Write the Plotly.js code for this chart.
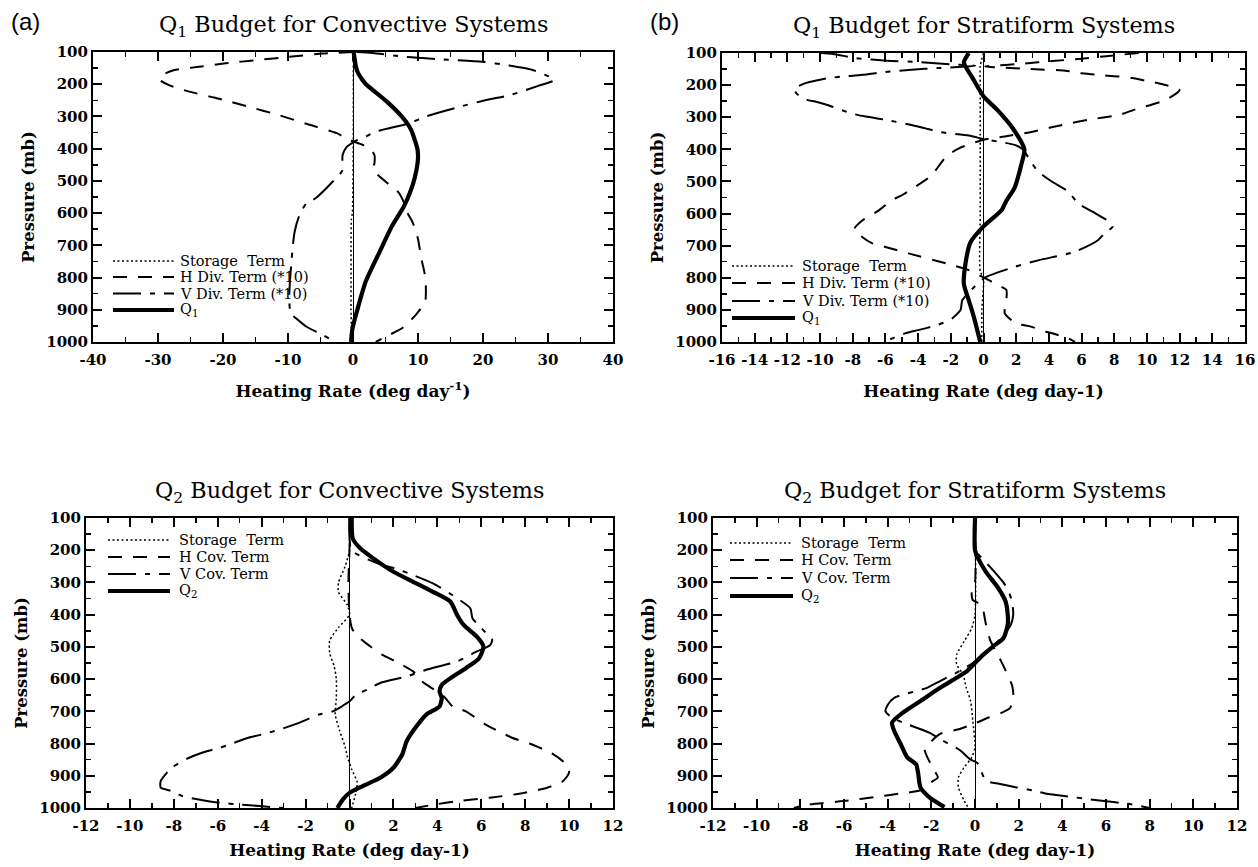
<!DOCTYPE html>
<html>
<head>
<meta charset="utf-8">
<script src="https://cdn.plot.ly/plotly-3.0.1.min.js"></script>
<style>
  html, body { margin: 0; padding: 0; background: #fff; }
  #chart { width: 1258px; height: 867px; }
</style>
</head>
<body>
<div id="chart"></div>
<script>
// ---- Q1 budget, convective systems (heating rate, deg/day vs pressure, mb) ----
const q1ConvStorageP = [100, 300, 500, 600, 620, 700, 800, 900, 1000];
const q1ConvStorageV = [0.05, 0.05, 0.0, -0.1, -0.25, -0.3, -0.3, -0.3, -0.2];
const q1ConvHdivP = [100, 105, 115, 125, 135, 146, 156, 168, 185, 203, 223, 245, 270, 296, 326, 352, 373, 388, 405, 420, 445, 466, 502, 536, 570, 600, 630, 680, 740, 785, 825, 875, 915, 955, 978, 1000];
const q1ConvHdivV = [0, -4.7, -9.8, -14.7, -19.6, -23.7, -27.5, -29.0, -29.8, -28.3, -25.2, -20.6, -16.0, -11.4, -6.7, -2.5, -0.6, 1.5, 2.8, 3.3, 3.3, 3.1, 5.0, 7.0, 7.9, 8.4, 9.2, 10.0, 10.5, 11.0, 11.2, 11.1, 9.7, 7.7, 5.6, 3.5];
const q1ConvVdivP = [100, 103, 115, 122, 130, 142, 155, 170, 187, 205, 233, 249, 270, 300, 321, 347, 362, 377, 395, 420, 470, 502, 553, 570, 610, 660, 710, 760, 810, 860, 911, 931, 952, 975, 1000];
const q1ConvVdivV = [0.5, 3, 8, 13, 20, 24, 27.5, 29.5, 31, 28.5, 24.3, 20.5, 16.4, 11.2, 8.7, 3.5, 2.0, 0.3, -1.0, -1.6, -1.7, -3.1, -5.7, -7.2, -8.3, -9.0, -9.3, -9.5, -9.7, -9.8, -9.6, -8.5, -7.2, -5.0, -2.6];
const q1ConvQP = [100, 150, 170, 200, 250, 300, 340, 400, 430, 490, 540, 580, 640, 720, 810, 890, 960, 1000];
const q1ConvQV = [0.1, 0.5, 0.9, 2.0, 5.0, 7.5, 8.9, 9.9, 10.0, 9.5, 8.7, 7.8, 6.0, 4.1, 2.0, 0.8, -0.1, -0.3];

// ---- Q1 budget, stratiform systems ----
const q1StratStorageP = [100, 140, 200, 400, 600, 780, 800, 900, 1000];
const q1StratStorageV = [0, -0.2, -0.2, -0.2, -0.2, -0.2, 0, -0.1, -0.1];
const q1StratHdivP = [100, 110, 118, 125, 133, 142, 145, 150, 155, 162, 166, 170, 173, 178, 186, 198, 215, 245, 277, 293, 308, 324, 345, 360, 370, 397, 423, 470, 490, 543, 558, 590, 621, 648, 670, 693, 704, 724, 755, 776, 799, 823, 838, 869, 911, 942, 952, 968, 973, 989, 1000];
const q1StratHdivV = [9.5, 7.5, 6.0, 4.2, 2.5, 0.1, 1.0, 2.8, 5.0, 5.8, 6.6, 7.4, 8.3, 9.1, 9.9, 11.0, 12.0, 11.2, 9.2, 8.3, 6.4, 4.8, 3.0, 1.3, 0, -1.5, -2.3, -3.0, -3.4, -5.0, -5.6, -6.4, -7.4, -7.9, -7.5, -6.8, -6.0, -4.6, -2.3, -0.9, 0, 0.9, 1.4, 1.4, 1.3, 2.0, 2.9, 3.8, 4.2, 5.2, 5.6];
const q1StratVdivP = [100, 103, 116, 124, 128, 134, 140, 143, 147, 152, 159, 168, 173, 178, 194, 212, 228, 246, 251, 261, 288, 298, 308, 324, 334, 347, 357, 368, 376, 386, 400, 430, 467, 501, 532, 569, 595, 626, 641, 662, 683, 719, 745, 766, 799, 830, 870, 900, 926, 937, 950, 963, 973, 989, 1000];
const q1StratVdivV = [-10, -9.2, -7.8, -5.9, -4.0, -2.3, -0.5, -1.3, -2.8, -4.4, -6.0, -7.4, -8.5, -9.5, -10.9, -11.6, -11.4, -10.8, -10.3, -9.6, -8.1, -7.2, -6.0, -4.4, -3.6, -2.6, -0.9, 0, 0.9, 1.9, 2.4, 2.8, 3.3, 4.2, 5.2, 5.8, 6.7, 7.7, 7.9, 7.4, 7.0, 5.6, 3.4, 1.9, 0.1, -0.6, -1.3, -1.4, -1.9, -2.3, -3.0, -4.0, -4.8, -5.6, -6.0];
const q1StratQP = [100, 130, 175, 235, 280, 335, 400, 450, 520, 560, 590, 640, 690, 755, 820, 870, 920, 1000];
const q1StratQV = [-0.9, -1.2, -0.7, 0, 0.9, 1.8, 2.5, 2.3, 1.9, 1.4, 1.1, 0, -0.8, -1.1, -1.2, -0.9, -0.6, -0.2];

// ---- Q2 budget, convective systems ----
const q2ConvStorageP = [100, 200, 250, 300, 330, 370, 400, 440, 480, 520, 560, 600, 660, 710, 760, 810, 840, 880, 920, 950, 1000];
const q2ConvStorageV = [0, 0, -0.2, -0.5, -0.5, -0.1, 0, -0.5, -0.9, -0.9, -0.7, -0.6, -0.6, -0.65, -0.45, -0.2, -0.1, 0.1, 0.35, 0.3, 0.1];
const q2ConvHcovP = [100, 200, 300, 400, 440, 463, 489, 525, 545, 576, 607, 654, 685, 700, 741, 762, 782, 800, 830, 860, 890, 918, 937, 955, 968, 980, 990, 1000];
const q2ConvHcovV = [0, 0, -0.05, 0, 0.1, 0.3, 0.76, 1.5, 2.1, 2.9, 3.3, 4.3, 4.7, 5.3, 6.2, 6.8, 7.4, 8.2, 9.2, 9.8, 10.0, 9.7, 9.0, 7.8, 6.4, 4.8, 3.8, 3.0];
const q2ConvVcovP = [100, 200, 246, 257, 272, 303, 349, 380, 411, 427, 463, 478, 495, 514, 545, 571, 592, 612, 633, 648, 669, 700, 710, 736, 757, 772, 782, 813, 824, 844, 875, 906, 916, 937, 947, 963, 978, 984, 989, 994, 1000];
const q2ConvVcovV = [0, 0.1, 1.5, 2.1, 2.7, 3.8, 4.9, 5.5, 5.6, 5.8, 6.3, 6.5, 6.4, 5.8, 4.9, 3.5, 2.6, 1.4, 0.8, 0.3, 0, -0.76, -1.4, -2.3, -3.2, -4.0, -4.6, -5.9, -6.5, -7.3, -8.1, -8.5, -8.6, -8.6, -8.1, -7.6, -6.5, -5.9, -5.0, -4.1, -3.0];
const q2ConvQP = [100, 164, 195, 226, 267, 298, 329, 360, 401, 432, 468, 499, 535, 566, 597, 618, 638, 659, 685, 710, 751, 793, 834, 875, 906, 932, 953, 973, 994, 1000];
const q2ConvQV = [0.1, 0.15, 0.5, 1.1, 2.0, 2.9, 3.8, 4.6, 4.9, 5.2, 5.8, 6.1, 5.9, 5.3, 4.6, 4.2, 4.1, 4.2, 4.1, 3.5, 3.0, 2.6, 2.4, 2.0, 1.4, 0.6, 0, -0.3, -0.5, -0.55];

// ---- Q2 budget, stratiform systems ----
const q2StratStorageP = [100, 400, 442, 483, 524, 555, 586, 627, 668, 730, 812, 843, 874, 905, 936, 977, 1000];
const q2StratStorageV = [0, 0, -0.15, -0.5, -0.84, -0.84, -0.54, -0.4, -0.2, -0.1, 0, -0.15, -0.5, -0.76, -0.76, -0.5, -0.3];
const q2StratHcovP = [100, 300, 330, 355, 370, 430, 480, 520, 545, 620, 660, 690, 705, 720, 735, 755, 770, 800, 820, 840, 880, 905, 920, 945, 955, 965, 977, 990, 1000];
const q2StratHcovV = [0, 0, -0.15, -0.1, 0.3, 0.5, 0.7, 1.0, 1.2, 1.7, 1.76, 1.6, 1.2, 0.6, 0.08, -0.7, -1.6, -2.1, -2.3, -2.2, -1.9, -1.7, -2.0, -2.5, -3.4, -4.5, -5.8, -7.7, -8.3];
const q2StratVcovP = [100, 200, 220, 260, 300, 330, 360, 400, 430, 460, 490, 520, 550, 575, 606, 627, 658, 680, 700, 720, 735, 766, 790, 820, 850, 860, 915, 925, 935, 946, 956, 961, 977, 987, 1000];
const q2StratVcovV = [0, 0, 0.25, 0.8, 1.3, 1.55, 1.7, 1.75, 1.65, 1.35, 0.95, 0.45, -0.1, -0.7, -1.6, -2.2, -3.7, -4.0, -4.1, -3.8, -3.3, -2.1, -1.5, -0.7, -0.2, 0.1, 0.5, 1.1, 1.8, 2.7, 3.3, 3.9, 5.7, 7.0, 8.0];
const q2StratQP = [100, 200, 226, 267, 318, 359, 401, 431, 473, 498, 524, 550, 576, 596, 627, 668, 704, 735, 761, 802, 843, 864, 894, 936, 966, 997];
const q2StratQV = [0, 0, 0.15, 0.5, 1.07, 1.4, 1.5, 1.5, 1.3, 0.84, 0.38, 0, -0.38, -0.84, -1.6, -2.5, -3.3, -3.8, -3.7, -3.4, -3.1, -2.7, -2.6, -2.5, -2.1, -1.4];

// ---- text ----
const panelTitles = [
  'Q<sub>1</sub> Budget for Convective Systems',
  'Q<sub>1</sub> Budget for Stratiform Systems',
  'Q<sub>2</sub> Budget for Convective Systems',
  'Q<sub>2</sub> Budget for Stratiform Systems'
];
const panelTags = ['(a)', '(b)'];
const xTitles = [
  'Heating Rate (deg day<sup>-1</sup>)',
  'Heating Rate (deg day-1)',
  'Heating Rate (deg day-1)',
  'Heating Rate (deg day-1)'
];
const yTitle = 'Pressure (mb)';
const legendQ1 = ['Storage\u00a0 Term', 'H Div. Term (*10)', 'V Div. Term (*10)', 'Q<sub>1</sub>'];
const legendQ2 = ['Storage\u00a0 Term', 'H Cov. Term', 'V Cov. Term', 'Q<sub>2</sub>'];
const pressureTicks = [100, 200, 300, 400, 500, 600, 700, 800, 900, 1000];

// ---- drawing ----
const W = 1258, H = 867;
const SERIF = 'DejaVu Serif';

const STYLES = [
  { color: '#000', width: 1.5, dash: '2px,2.5px' },        // storage
  { color: '#000', width: 2, dash: '14px,11px' },          // horizontal term
  { color: '#000', width: 2, dash: '28px,9px,5px,9px' },   // vertical term
  { color: '#000', width: 4.2 }                            // Q
];

// plot boxes in pixels, key placement, x-title gap
const panels = [
  { box: { l: 93, r: 613, t: 52, b: 342 }, xr: [-40, 40], dt: 10, mdt: 5, gap: 17,
    leg: { x0: 113, x1: 174, tx: 179, rows: [261, 277, 293.5, 310] }, labels: legendQ1,
    series: [[q1ConvStorageP, q1ConvStorageV], [q1ConvHdivP, q1ConvHdivV], [q1ConvVdivP, q1ConvVdivV], [q1ConvQP, q1ConvQV]] },
  { box: { l: 722, r: 1245, t: 53, b: 342 }, xr: [-16, 16], dt: 2, mdt: 1, gap: 17,
    leg: { x0: 732, x1: 795, tx: 801, rows: [266, 283, 301, 318] }, labels: legendQ1,
    series: [[q1StratStorageP, q1StratStorageV], [q1StratHdivP, q1StratHdivV], [q1StratVdivP, q1StratVdivV], [q1StratQP, q1StratQV]] },
  { box: { l: 86, r: 613, t: 518, b: 808 }, xr: [-12, 12], dt: 2, mdt: 1, gap: 10,
    leg: { x0: 108, x1: 170, tx: 178, rows: [540, 557, 574, 591] }, labels: legendQ2,
    series: [[q2ConvStorageP, q2ConvStorageV], [q2ConvHcovP, q2ConvHcovV], [q2ConvVcovP, q2ConvVcovV], [q2ConvQP, q2ConvQV]] },
  { box: { l: 713, r: 1237, t: 518, b: 808 }, xr: [-12, 12], dt: 2, mdt: 1, gap: 10,
    leg: { x0: 730, x1: 793, tx: 800, rows: [543, 560, 578, 596] }, labels: legendQ2,
    series: [[q2StratStorageP, q2StratStorageV], [q2StratHcovP, q2StratHcovV], [q2StratVcovP, q2StratVcovV], [q2StratQP, q2StratQV]] }
];

const px = x => x / W;
const py = y => 1 - y / H;

const traces = [];
const layout = {
  width: W, height: H,
  margin: { l: 0, r: 0, t: 0, b: 0 },
  paper_bgcolor: '#fff', plot_bgcolor: '#fff',
  showlegend: false,
  shapes: [], annotations: []
};

panels.forEach((pn, i) => {
  const n = i === 0 ? '' : String(i + 1);
  const xa = 'xaxis' + n, ya = 'yaxis' + n;
  const xticks = [];
  for (let v = pn.xr[0]; v <= pn.xr[1] + 1e-9; v += pn.dt) xticks.push(v);

  const common = {
    showline: true, linecolor: '#000', linewidth: 2, mirror: 'allticks',
    ticks: 'inside', ticklen: 9, tickwidth: 2, tickcolor: '#000',
    showgrid: false, fixedrange: true,
    tickfont: { family: SERIF, size: 15, color: '#000', weight: 'bold' }
  };
  layout[xa] = Object.assign({}, common, {
    domain: [px(pn.box.l), px(pn.box.r)], anchor: 'y' + n,
    range: pn.xr, tickmode: 'array', tickvals: xticks, ticktext: xticks.map(String),
    ticklabelstandoff: 3,
    zeroline: true, zerolinecolor: '#000', zerolinewidth: 1,
    minor: { dtick: pn.mdt, ticks: 'inside', ticklen: 5, tickwidth: 1.5, tickcolor: '#000', showgrid: false },
    title: { text: xTitles[i], standoff: pn.gap, font: { family: SERIF, size: 17, color: '#000', weight: 'bold' } }
  });
  layout[ya] = Object.assign({}, common, {
    domain: [py(pn.box.b), py(pn.box.t)], anchor: 'x' + n,
    range: [1000, 100], tickmode: 'array', tickvals: pressureTicks, ticktext: pressureTicks.map(String),
    zeroline: false,
    minor: { dtick: 50, ticks: 'inside', ticklen: 5, tickwidth: 1.5, tickcolor: '#000', showgrid: false },
    title: { text: yTitle, standoff: 7, font: { family: SERIF, size: 16.5, color: '#000', weight: 'bold' } }
  });

  pn.series.forEach((s, k) => {
    traces.push({
      type: 'scatter', mode: 'lines',
      x: s[1], y: s[0], xaxis: 'x' + n, yaxis: 'y' + n,
      line: Object.assign({ shape: 'spline', smoothing: 0.6 }, STYLES[k]),
      hoverinfo: 'skip'
    });
  });

  // panel heading
  layout.annotations.push({
    xref: 'paper', yref: 'paper', showarrow: false,
    x: px((pn.box.l + pn.box.r) / 2), y: py(pn.box.t - 26),
    xanchor: 'center', yanchor: 'middle',
    text: panelTitles[i], font: { family: SERIF, size: 22.3, color: '#000' }
  });

  // in-plot key
  pn.labels.forEach((lab, k) => {
    layout.shapes.push({
      type: 'line', xref: 'paper', yref: 'paper',
      x0: px(pn.leg.x0), x1: px(pn.leg.x1), y0: py(pn.leg.rows[k]), y1: py(pn.leg.rows[k]),
      line: { color: '#000', width: STYLES[k].width, dash: STYLES[k].dash || 'solid' }
    });
    layout.annotations.push({
      xref: 'paper', yref: 'paper', showarrow: false,
      x: px(pn.leg.tx), y: py(pn.leg.rows[k]), xanchor: 'left', yanchor: 'middle',
      text: lab, borderpad: 0,
      font: { family: SERIF, size: 14.5, color: '#000' }
    });
  });
});

// panel letters
[[26, 22], [664, 22]].forEach((pos, i) => {
  layout.annotations.push({
    xref: 'paper', yref: 'paper', showarrow: false,
    x: px(pos[0]), y: py(pos[1]), xanchor: 'center', yanchor: 'middle',
    text: panelTags[i], font: { family: 'Liberation Sans', size: 24, color: '#000' }
  });
});

Plotly.newPlot('chart', traces, layout, { staticPlot: true, displayModeBar: false });
</script>
</body>
</html>
